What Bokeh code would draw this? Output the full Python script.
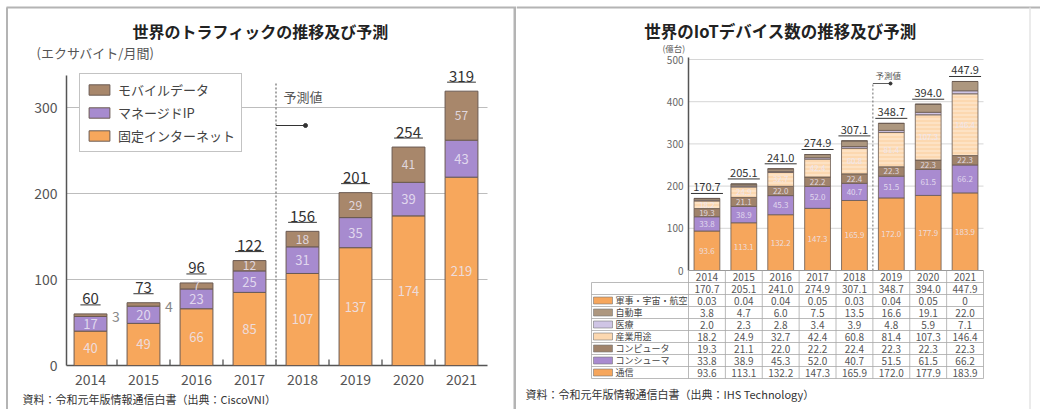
import numpy as np
from bokeh.plotting import figure
from bokeh.models import ColumnDataSource, Range1d, Legend, LegendItem
from bokeh.layouts import row
from bokeh.embed import file_html
from bokeh.resources import INLINE
from bokeh.core.properties import value

FONT = "Noto Sans CJK JP"

# ---------------- data : traffic ----------------
years = ["2014", "2015", "2016", "2017", "2018", "2019", "2020", "2021"]
fixed_internet = [40, 49, 66, 85, 107, 137, 174, 219]
managed_ip = [17, 20, 23, 25, 31, 35, 39, 43]
mobile_data = [3, 4, 7, 12, 18, 29, 41, 57]
traffic_totals = [60, 73, 96, 122, 156, 201, 254, 319]
traffic_series = ["固定インターネット", "マネージドIP", "モバイルデータ"]
traffic_yticks = [0, 100, 200, 300]

# ---------------- data : IoT ----------------
iot_labels = ["通信", "コンシューマ", "コンピュータ", "産業用途", "医療", "自動車", "軍事・宇宙・航空"]  # bottom -> top
tsushin = [93.6, 113.1, 132.2, 147.3, 165.9, 172.0, 177.9, 183.9]
consumer = [33.8, 38.9, 45.3, 52.0, 40.7, 51.5, 61.5, 66.2]
computer = [19.3, 21.1, 22.0, 22.2, 22.4, 22.3, 22.3, 22.3]
sangyo = [18.2, 24.9, 32.7, 42.4, 60.8, 81.4, 107.3, 146.4]
iryo = [2.0, 2.3, 2.8, 3.4, 3.9, 4.8, 5.9, 7.1]
jidosha = [3.8, 4.7, 6.0, 7.5, 13.5, 16.6, 19.1, 22.0]
gunji = [0.03, 0.04, 0.04, 0.05, 0.03, 0.04, 0.05, 0]
iot_totals = [170.7, 205.1, 241.0, 274.9, 307.1, 348.7, 394.0, 447.9]
iot_yticks = [0, 100, 200, 300, 400, 500]

idx = list(range(len(years)))

# colours
ORANGE = "#F7A75C"
PURPLE = "#A78BCF"
BROWN = "#A8876B"
C_TSUSHIN = "#F6A65C"
C_CONSUMER = "#A98BD0"
C_COMPUTER = "#A0836B"
C_SANGYO = "#FCD8B0"
C_IRYO = "#CFC5E5"
C_JIDOSHA = "#AD977F"
C_GUNJI = "#F6A65C"
EDGE = "#6a5a52"
INLBL = "#ece6f4"
AXIS = "#555555"
FRAME_LINE = "#b4b4b4"


def txt(p, x, y, t, size, color, align="center", style="normal", alpha=1.0):
    p.text(x=x, y=y, text=t, text_font=value(FONT), text_font_size=size, text_color=color,
           text_align=align, text_baseline="middle", text_font_style=style, text_alpha=alpha)


# =============== LEFT PANEL =================
W1, H = 516, 409
L_LEFT, L_RIGHT, L_AXTOP, L_BOTTOM = 66, 487, 75, 365
L_C0, L_STEP, L_KY = 90.0, 53.0, 0.86


def lx(px):
    return (px - L_C0) / L_STEP


def ly(py):
    return (L_BOTTOM - py) / L_KY


p1 = figure(width=W1, height=H, output_backend="svg", toolbar_location=None, title=None,
            x_range=Range1d(lx(0), lx(W1)), y_range=Range1d(ly(H), ly(0)),
            x_axis_location=None, y_axis_location=None,
            min_border_left=0, min_border_right=0, min_border_top=0, min_border_bottom=0)
p1.outline_line_color = None
p1.xgrid.visible = False
p1.ygrid.visible = False
p1.background_fill_color = "white"
p1.border_fill_color = "white"

# panel border
p1.segment(x0=[lx(6.5), lx(6), lx(514.5)], x1=[lx(6.5), lx(516), lx(514.5)],
           y0=[ly(7), ly(7), ly(7)], y1=[ly(H), ly(7), ly(H)],
           line_color=FRAME_LINE, line_width=[2, 2, 3])

# grid + axes
grid_y = traffic_yticks[1:]
p1.segment(x0=[lx(L_LEFT)] * len(grid_y), x1=[lx(L_RIGHT)] * len(grid_y), y0=grid_y, y1=grid_y,
           line_color="#bdbdbd", line_width=1)
p1.segment(x0=[lx(L_LEFT), lx(L_LEFT)], x1=[lx(L_LEFT), lx(L_RIGHT)], y0=[0, 0], y1=[ly(L_AXTOP), 0],
           line_color=AXIS, line_width=1.5)
bounds = [i + 0.5 for i in idx[:-1]]
p1.segment(x0=bounds, x1=bounds, y0=[0] * len(bounds), y1=[6 / L_KY] * len(bounds),
           line_color=AXIS, line_width=1.3)
txt(p1, [lx(57)] * len(traffic_yticks), traffic_yticks, [str(t) for t in traffic_yticks], "14px", "#555", "right")
txt(p1, idx, [ly(379)] * len(idx), years, "14px", "#555")

# bars
src1 = ColumnDataSource(dict(x=idx, fixed=fixed_internet, managed=managed_ip, mobile=mobile_data))
rs1 = p1.vbar_stack(["fixed", "managed", "mobile"], x="x", width=0.62, source=src1,
                    fill_color=[ORANGE, PURPLE, BROWN], line_color=EDGE, line_width=1)

f = np.array(fixed_internet, float)
m = np.array(managed_ip, float)
mb = np.array(mobile_data, float)
txt(p1, idx, list(f / 2), [str(v) for v in fixed_internet], "13px", INLBL, alpha=0.85)
txt(p1, idx, list(f + m / 2), [str(v) for v in managed_ip], "13px", INLBL, alpha=0.85)
inside = [i for i in idx if mobile_data[i] >= 5]
outside = [i for i in idx if mobile_data[i] < 5]
txt(p1, inside, [f[i] + m[i] + mb[i] / 2 for i in inside], [str(mobile_data[i]) for i in inside],
    "12px", INLBL, alpha=0.85)
txt(p1, [i + 0.31 + 5 / L_STEP for i in outside], [f[i] + m[i] + mb[i] / 2 - 2 for i in outside],
    [str(mobile_data[i]) for i in outside], "14px", "#888", "left")

tot_txt = [str(t) for t in traffic_totals]
txt(p1, idx, [t + 15 / L_KY for t in traffic_totals], tot_txt, "15px", "#333")
hw = [(len(s) * 8.6 + 3) / 2 / L_STEP for s in tot_txt]
p1.segment(x0=[i - w for i, w in zip(idx, hw)], x1=[i + w for i, w in zip(idx, hw)],
           y0=[t + 9 / L_KY for t in traffic_totals], y1=[t + 9 / L_KY for t in traffic_totals],
           line_color="#333", line_width=1)

# forecast marker
p1.segment(x0=[3.5], x1=[3.5], y0=[0], y1=[ly(83)], line_color="#777", line_width=1.3, line_dash="2 2")
p1.segment(x0=[3.5], x1=[lx(305)], y0=[ly(125)], y1=[ly(125)], line_color="#333", line_width=1)
p1.scatter(x=[lx(305)], y=[ly(125)], size=4, color="#333")
txt(p1, [lx(283)], [ly(96)], ["予測値"], "13px", "#555", "left")

legend1 = Legend(items=[LegendItem(label=traffic_series[2], renderers=[rs1[2]]),
                        LegendItem(label=traffic_series[1], renderers=[rs1[1]]),
                        LegendItem(label=traffic_series[0], renderers=[rs1[0]])],
                 location=(79, H - 152))
legend1.label_text_font = FONT
legend1.label_text_font_size = "13px"
legend1.label_text_color = "#444"
legend1.border_line_color = "#888"
legend1.border_line_width = 1
legend1.background_fill_alpha = 1
legend1.glyph_width = 26
legend1.glyph_height = 13
legend1.label_height = 15
legend1.spacing = 4
legend1.padding = 6
legend1.margin = 0
legend1.label_standoff = 6
p1.add_layout(legend1)

txt(p1, [lx(260)], [ly(30)], ["世界のトラフィックの推移及び予測"], "16px", "#222", style="bold")
txt(p1, [lx(36)], [ly(52)], ["(エクサバイト/月間)"], "13px", "#555", "left")
txt(p1, [lx(22)], [ly(398)], ["資料：令和元年版情報通信白書（出典：CiscoVNI）"], "11px", "#333", "left")

# =============== RIGHT PANEL =================
X0, W2 = 516, 524
R_LEFT, R_RIGHT, R_Y500, R_BOTTOM = 688, 983, 59, 270
R_STEP = (R_RIGHT - R_LEFT) / 8.0
R_KY = (R_BOTTOM - R_Y500) / 500.0


def rx(px):
    return (px - R_LEFT) / R_STEP - 0.5


def ry(py):
    return (R_BOTTOM - py) / R_KY


p2 = figure(width=W2, height=H, output_backend="svg", toolbar_location=None, title=None,
            x_range=Range1d(rx(X0), rx(X0 + W2)), y_range=Range1d(ry(H), ry(0)),
            x_axis_location=None, y_axis_location=None,
            min_border_left=0, min_border_right=0, min_border_top=0, min_border_bottom=0)
p2.outline_line_color = None
p2.xgrid.visible = False
p2.ygrid.visible = False
p2.background_fill_color = "white"
p2.border_fill_color = "white"

p2.segment(x0=[rx(516), rx(1029.5)], x1=[rx(1040), rx(1029.5)], y0=[ry(7), ry(7)], y1=[ry(7), ry(H)],
           line_color=[FRAME_LINE, "#e4e4e4"], line_width=[2, 1.5])

grid2 = iot_yticks[1:]
p2.segment(x0=[rx(R_LEFT)] * len(grid2), x1=[rx(R_RIGHT)] * len(grid2), y0=grid2, y1=grid2,
           line_color="#d6d6d6", line_width=1)
p2.segment(x0=[-0.5], x1=[-0.5], y0=[0], y1=[ry(57)], line_color=AXIS, line_width=1.5)
txt(p2, [rx(683)] * len(iot_yticks), iot_yticks, [str(t) for t in iot_yticks], "10px", "#666", "right")

cols = ["tsushin", "consumer", "computer", "sangyo", "iryo", "jidosha", "gunji"]
series = [tsushin, consumer, computer, sangyo, iryo, jidosha, gunji]
iot_colors = [C_TSUSHIN, C_CONSUMER, C_COMPUTER, C_SANGYO, C_IRYO, C_JIDOSHA, C_GUNJI]
src2 = ColumnDataSource(dict(x=idx, **{c: s for c, s in zip(cols, series)}))
p2.vbar_stack(cols, x="x", width=0.70, source=src2, fill_color=iot_colors, line_color=EDGE, line_width=0.8,
              hatch_pattern=[" ", " ", " ", "-", " ", " ", " "], hatch_color="white", hatch_alpha=0.5,
              hatch_scale=4, hatch_weight=1)

cum = np.zeros(len(years))
for s in series[:4]:
    s = np.array(s, float)
    txt(p2, idx, list(cum + s / 2), [f"{v:.1f}" for v in s], "8px", INLBL, alpha=0.85)
    cum = cum + s

itot = [f"{t:.1f}" for t in iot_totals]
txt(p2, idx, [t + 11 / R_KY for t in iot_totals], itot, "11px", "#333")
hw2 = [(len(s) * 6.0 + 2) / 2 / R_STEP for s in itot]
p2.segment(x0=[i - w for i, w in zip(idx, hw2)], x1=[i + w for i, w in zip(idx, hw2)],
           y0=[t + 5 / R_KY for t in iot_totals], y1=[t + 5 / R_KY for t in iot_totals],
           line_color="#333", line_width=1)

p2.segment(x0=[4.5], x1=[4.5], y0=[0], y1=[ry(83)], line_color="#777", line_width=1.1, line_dash="2 2")
p2.segment(x0=[4.5], x1=[rx(890)], y0=[ry(83)], y1=[ry(83)], line_color="#333", line_width=0.8)
p2.scatter(x=[rx(890)], y=[ry(83)], size=3, color="#333")
txt(p2, [rx(875)], [ry(74)], ["予測値"], "8.5px", "#555", "left")

txt(p2, [rx(780)], [ry(30)], ["世界のIoTデバイス数の推移及び予測"], "16.5px", "#222", style="bold")
txt(p2, [rx(662)], [ry(47)], ["(億台)"], "8.5px", "#555", "left")

# ---- table under the chart ----
T_TOP, ROW_PX = 270, 12.0
n_rows = len(iot_labels)
row_center = [ry(T_TOP + ROW_PX * (r + 0.5)) for r in range(n_rows + 2)]
row_edge = [ry(T_TOP + ROW_PX * r) for r in range(n_rows + 3)]
LBL_X = rx(591)

p2.segment(x0=[-0.5], x1=[7.5], y0=[row_edge[0]], y1=[row_edge[0]], line_color="#999", line_width=1)
p2.segment(x0=[LBL_X] * (len(row_edge) - 1), x1=[7.5] * (len(row_edge) - 1), y0=row_edge[1:], y1=row_edge[1:],
           line_color="#a8a8a8", line_width=0.8)
vx = [-0.5 + k for k in range(len(years) + 1)]
p2.segment(x0=vx, x1=vx, y0=[row_edge[0]] * len(vx), y1=[row_edge[-1]] * len(vx), line_color="#a8a8a8",
           line_width=0.8)
p2.segment(x0=[LBL_X], x1=[LBL_X], y0=[row_edge[1]], y1=[row_edge[-1]], line_color="#a8a8a8", line_width=0.8)

txt(p2, idx, [row_center[0]] * len(idx), years, "10px", "#555")
txt(p2, idx, [row_center[1]] * len(idx), itot, "10px", "#555")
table_order = list(range(n_rows))[::-1]  # top row = last stack layer
for r, k in enumerate(table_order):
    vals = series[k]
    if cols[k] == "gunji":
        cell = [f"{v:.2f}" if v else "0" for v in vals]
    else:
        cell = [f"{v:.1f}" for v in vals]
    txt(p2, idx, [row_center[2 + r]] * len(idx), cell, "10px", "#555")
rows_y = row_center[2:]
p2.rect(x=[rx(602.5)] * n_rows, y=rows_y, width=19 / R_STEP, height=7 / R_KY,
        fill_color=[iot_colors[k] for k in table_order], line_color="#777", line_width=0.6)
txt(p2, [rx(615)] * n_rows, rows_y, [iot_labels[k] for k in table_order], "9px", "#444", "left")
txt(p2, [rx(525)], [ry(393)], ["資料：令和元年版情報通信白書（出典：IHS Technology）"], "11px", "#333", "left")

layout = row(p1, p2)
open("out.html", "w").write(file_html(layout, INLINE))
